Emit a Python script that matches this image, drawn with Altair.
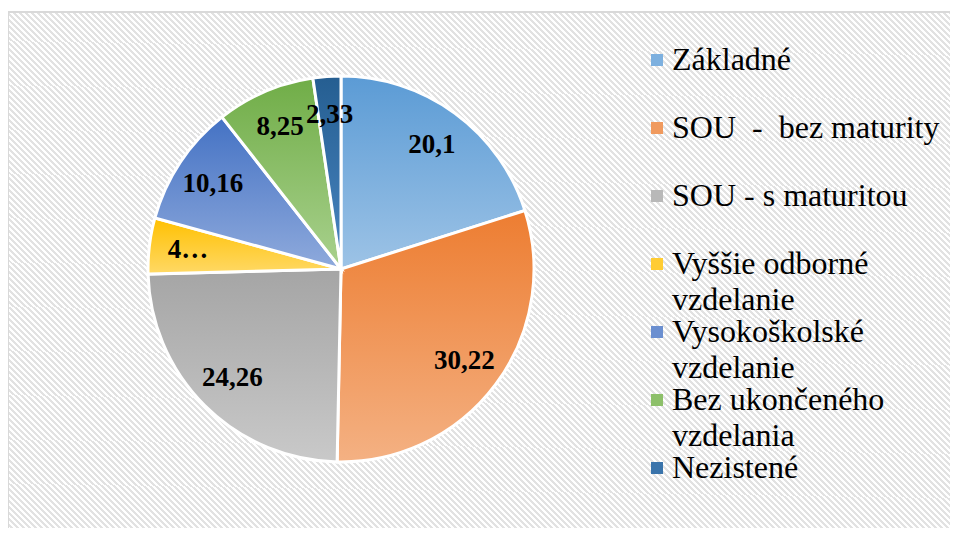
import altair as alt
import pandas as pd

# ---- data ----
categories = ["Základné", "SOU  -  bez maturity", "SOU - s maturitou",
              "Vyššie odborné vzdelanie", "Vysokoškolské vzdelanie",
              "Bez ukončeného vzdelania", "Nezistené"]
legend_text = ["Základné", "SOU\u00a0\u00a0-\u00a0\u00a0bez maturity", "SOU - s maturitou",
               "Vyššie odborné\nvzdelanie", "Vysokoškolské\nvzdelanie",
               "Bez ukončeného\nvzdelania", "Nezistené"]
values = [20.1, 30.22, 24.26, 4.68, 10.16, 8.25, 2.33]
value_labels = ["20,1", "30,22", "24,26", "4…", "10,16", "8,25", "2,33"]

# ---- styles ----
top_colors = ["#5B9BD5", "#ED7D31", "#A5A5A5", "#FFC000", "#4472C4", "#70AD47", "#255E91"]
bottom_colors = ["#9DC3E6", "#F4B183", "#C9C9C9", "#FFD966", "#8FAADC", "#A9D18E", "#4A86C2"]
legend_colors = ["#7DB0DF", "#F09A5E", "#B8B8B8", "#FFCC33", "#6B8FD0", "#8DC06A", "#3A74AB"]
SERIF = "Liberation Serif"

df = pd.DataFrame({
    "idx": list(range(len(categories))),
    "cat": categories,
    "legend": legend_text,
    "value": values,
    "label": value_labels,
})

CX, CY, R = 333, 261, 193
W, H = 942, 520

base = alt.Chart(df).transform_window(
    cum="sum(value)", sort=[alt.SortField("idx")], frame=[None, 0]
).transform_joinaggregate(total="sum(value)").transform_calculate(
    t0="(datum.cum - datum.value) / datum.total * 2 * PI",
    t1="datum.cum / datum.total * 2 * PI",
).transform_calculate(tm="(datum.t0 + datum.t1) / 2")

# hatched background (diagonal stripes)
n = 245
stops = []
for i in range(n):
    a, b, c = i / n, (i + 0.5) / n, (i + 1) / n
    stops += [alt.GradientStop(offset=a, color="#ffffff"),
              alt.GradientStop(offset=b, color="#ffffff"),
              alt.GradientStop(offset=b, color="#e2e2e2"),
              alt.GradientStop(offset=c, color="#e2e2e2")]
hatch = alt.Gradient(gradient="linear", stops=stops, x1=0, y1=1, x2=1.1876, y2=0.335)

one = pd.DataFrame({"a": [0]})
frame = alt.Chart(one).mark_rect(fill=hatch).encode(
    x=alt.value(0), x2=alt.value(W), y=alt.value(4), y2=alt.value(H))
border_top = alt.Chart(one).mark_rule(color="#d9d9d9", strokeWidth=2).encode(
    x=alt.value(0), x2=alt.value(W), y=alt.value(4))
border_left = alt.Chart(one).mark_rule(color="#d9d9d9", strokeWidth=2).encode(
    x=alt.value(0), y=alt.value(4), y2=alt.value(H))

arcs = []
for i, cat in enumerate(categories):
    grad = alt.Gradient(gradient="linear", x1=0, y1=0, x2=0, y2=1,
                        stops=[alt.GradientStop(offset=0, color=top_colors[i]),
                               alt.GradientStop(offset=1, color=bottom_colors[i])])
    arcs.append(
        base.transform_filter(alt.datum.idx == i).mark_arc(
            fill=grad, stroke="white", strokeWidth=3, outerRadius=R
        ).encode(
            theta=alt.Theta("t0:Q", scale=None),
            theta2="t1:Q",
            x=alt.value(CX), y=alt.value(CY),
        )
    )

labels = base.mark_text(
    font=SERIF, fontSize=27, fontWeight="bold", color="black",
    baseline="middle", align="center"
).encode(
    theta=alt.Theta("tm:Q", scale=None),
    radius=alt.value(154),
    x=alt.value(CX), y=alt.value(CY),
    text="label:N",
)

ypos = alt.Y("cat:N", axis=None, sort=categories,
             scale=alt.Scale(type="point", domain=categories, range=[52, 460], padding=0))

leg_sq = alt.Chart(df).mark_square(size=144, opacity=1).encode(
    x=alt.value(649),
    y=ypos,
    color=alt.Color("cat:N", scale=alt.Scale(domain=categories, range=legend_colors), legend=None),
)

leg_txt = alt.Chart(df).mark_text(
    font=SERIF, fontSize=32, color="black", align="left",
    baseline="alphabetic", dy=10, lineBreak="\n", lineHeight=36
).encode(
    x=alt.value(664),
    y=ypos,
    text="legend:N",
)

chart = alt.layer(frame, border_top, border_left, *arcs, labels, leg_sq, leg_txt).properties(
    width=W, height=H, padding=0, background="white",
    autosize=alt.AutoSizeParams(type="none")
).configure_view(stroke="transparent", strokeWidth=0)

chart.save("out.html", embed_options={"renderer": "svg", "actions": False})
